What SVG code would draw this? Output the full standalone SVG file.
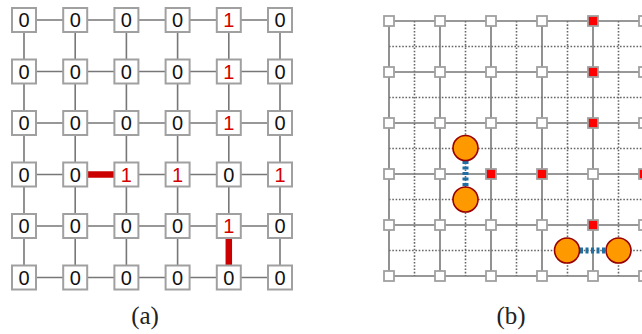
<svg xmlns="http://www.w3.org/2000/svg" width="642" height="334" viewBox="0 0 642 334">
<style>
.edge{stroke:#777;stroke-width:1.6;fill:none}
.dot{stroke:#666;stroke-width:1.6;stroke-dasharray:1.6 1.7;fill:none}
.box{fill:#fff;stroke:#a0a0a0;stroke-width:2}
.sq{fill:#fff;stroke:#a0a0a0;stroke-width:1.8}
.sqr{fill:#f00;stroke:#a0a0a0;stroke-width:1.8}
.t{font-family:"Liberation Sans",Arial,sans-serif;font-size:20px;text-anchor:middle;fill:#111}
.r{fill:#d40000}
.red{stroke:#cc0000;stroke-width:6.5;fill:none}
.ball{fill:#ff9900;stroke:#990000;stroke-width:1.6}
.bond{stroke:#1f6fa3;stroke-width:6;stroke-dasharray:3 2.5;fill:none}
.lab{font-family:"Liberation Serif","Times New Roman",serif;font-size:25px;text-anchor:middle;fill:#222}
</style>
<rect width="642" height="334" fill="#fff"/>
<!-- Panel (a) -->
<g id="connectors-a">
<path class="edge" d="M24 20H280M24 71.5H280M24 123H280M24 174.5H280M24 226H280M24 277.5H280"/>
<path class="edge" d="M24 20V277.5M75.2 20V277.5M126.4 20V277.5M177.6 20V277.5M228.8 20V277.5M280 20V277.5"/>
<path class="red" d="M87 174.5H114"/>
<path class="red" d="M228.8 238V265.5"/>
</g>
<g id="nodes-a">
<g id="a-r1">
<rect class="box" x="12" y="8" width="24" height="24"/><text class="t" x="24" y="27.2">0</text>
<rect class="box" x="63.2" y="8" width="24" height="24"/><text class="t" x="75.2" y="27.2">0</text>
<rect class="box" x="114.4" y="8" width="24" height="24"/><text class="t" x="126.4" y="27.2">0</text>
<rect class="box" x="165.6" y="8" width="24" height="24"/><text class="t" x="177.6" y="27.2">0</text>
<rect class="box" x="216.8" y="8" width="24" height="24"/><text class="t r" x="228.8" y="27.2">1</text>
<rect class="box" x="268" y="8" width="24" height="24"/><text class="t" x="280" y="27.2">0</text>
</g>
<g id="a-r2">
<rect class="box" x="12" y="59.5" width="24" height="24"/><text class="t" x="24" y="78.7">0</text>
<rect class="box" x="63.2" y="59.5" width="24" height="24"/><text class="t" x="75.2" y="78.7">0</text>
<rect class="box" x="114.4" y="59.5" width="24" height="24"/><text class="t" x="126.4" y="78.7">0</text>
<rect class="box" x="165.6" y="59.5" width="24" height="24"/><text class="t" x="177.6" y="78.7">0</text>
<rect class="box" x="216.8" y="59.5" width="24" height="24"/><text class="t r" x="228.8" y="78.7">1</text>
<rect class="box" x="268" y="59.5" width="24" height="24"/><text class="t" x="280" y="78.7">0</text>
</g>
<g id="a-r3">
<rect class="box" x="12" y="111" width="24" height="24"/><text class="t" x="24" y="130.2">0</text>
<rect class="box" x="63.2" y="111" width="24" height="24"/><text class="t" x="75.2" y="130.2">0</text>
<rect class="box" x="114.4" y="111" width="24" height="24"/><text class="t" x="126.4" y="130.2">0</text>
<rect class="box" x="165.6" y="111" width="24" height="24"/><text class="t" x="177.6" y="130.2">0</text>
<rect class="box" x="216.8" y="111" width="24" height="24"/><text class="t r" x="228.8" y="130.2">1</text>
<rect class="box" x="268" y="111" width="24" height="24"/><text class="t" x="280" y="130.2">0</text>
</g>
<g id="a-r4">
<rect class="box" x="12" y="162.5" width="24" height="24"/><text class="t" x="24" y="181.7">0</text>
<rect class="box" x="63.2" y="162.5" width="24" height="24"/><text class="t" x="75.2" y="181.7">0</text>
<rect class="box" x="114.4" y="162.5" width="24" height="24"/><text class="t r" x="126.4" y="181.7">1</text>
<rect class="box" x="165.6" y="162.5" width="24" height="24"/><text class="t r" x="177.6" y="181.7">1</text>
<rect class="box" x="216.8" y="162.5" width="24" height="24"/><text class="t" x="228.8" y="181.7">0</text>
<rect class="box" x="268" y="162.5" width="24" height="24"/><text class="t r" x="280" y="181.7">1</text>
</g>
<g id="a-r5">
<rect class="box" x="12" y="214" width="24" height="24"/><text class="t" x="24" y="233.2">0</text>
<rect class="box" x="63.2" y="214" width="24" height="24"/><text class="t" x="75.2" y="233.2">0</text>
<rect class="box" x="114.4" y="214" width="24" height="24"/><text class="t" x="126.4" y="233.2">0</text>
<rect class="box" x="165.6" y="214" width="24" height="24"/><text class="t" x="177.6" y="233.2">0</text>
<rect class="box" x="216.8" y="214" width="24" height="24"/><text class="t r" x="228.8" y="233.2">1</text>
<rect class="box" x="268" y="214" width="24" height="24"/><text class="t" x="280" y="233.2">0</text>
</g>
<g id="a-r6">
<rect class="box" x="12" y="265.5" width="24" height="24"/><text class="t" x="24" y="284.7">0</text>
<rect class="box" x="63.2" y="265.5" width="24" height="24"/><text class="t" x="75.2" y="284.7">0</text>
<rect class="box" x="114.4" y="265.5" width="24" height="24"/><text class="t" x="126.4" y="284.7">0</text>
<rect class="box" x="165.6" y="265.5" width="24" height="24"/><text class="t" x="177.6" y="284.7">0</text>
<rect class="box" x="216.8" y="265.5" width="24" height="24"/><text class="t" x="228.8" y="284.7">0</text>
<rect class="box" x="268" y="265.5" width="24" height="24"/><text class="t" x="280" y="284.7">0</text>
</g>
</g>
<!-- Panel (b) -->
<g id="connectors-b">
<path class="dot" d="M414.5 21V276M465.5 21V276M516.5 21V276M567.5 21V276M618.5 21V276"/>
<path class="dot" d="M389 46.5H642M389 97.5H642M389 148.5H642M389 199.5H642M389 250.5H642"/>
<path class="edge" d="M389 21H642M389 72H642M389 123H642M389 174H642M389 225H642M389 276H642"/>
<path class="edge" d="M389 21V276M440 21V276M491 21V276M542 21V276M593 21V276"/>
<path class="bond" d="M465.5 161V187"/>
<path class="bond" d="M580 250.5H606"/>
</g>
<g id="nodes-b">
<g id="b-r1"><rect class="sq" x="384" y="16" width="10" height="10"/><rect class="sq" x="435" y="16" width="10" height="10"/><rect class="sq" x="486" y="16" width="10" height="10"/><rect class="sq" x="537" y="16" width="10" height="10"/><rect class="sqr" x="588" y="16" width="10" height="10"/><rect class="sq" x="639" y="16" width="10" height="10"/></g>
<g id="b-r2"><rect class="sq" x="384" y="67" width="10" height="10"/><rect class="sq" x="435" y="67" width="10" height="10"/><rect class="sq" x="486" y="67" width="10" height="10"/><rect class="sq" x="537" y="67" width="10" height="10"/><rect class="sqr" x="588" y="67" width="10" height="10"/><rect class="sq" x="639" y="67" width="10" height="10"/></g>
<g id="b-r3"><rect class="sq" x="384" y="118" width="10" height="10"/><rect class="sq" x="435" y="118" width="10" height="10"/><rect class="sq" x="486" y="118" width="10" height="10"/><rect class="sq" x="537" y="118" width="10" height="10"/><rect class="sqr" x="588" y="118" width="10" height="10"/><rect class="sq" x="639" y="118" width="10" height="10"/></g>
<g id="b-r4"><rect class="sq" x="384" y="169" width="10" height="10"/><rect class="sq" x="435" y="169" width="10" height="10"/><rect class="sqr" x="486" y="169" width="10" height="10"/><rect class="sqr" x="537" y="169" width="10" height="10"/><rect class="sq" x="588" y="169" width="10" height="10"/><rect class="sqr" x="639" y="169" width="10" height="10"/></g>
<g id="b-r5"><rect class="sq" x="384" y="220" width="10" height="10"/><rect class="sq" x="435" y="220" width="10" height="10"/><rect class="sq" x="486" y="220" width="10" height="10"/><rect class="sq" x="537" y="220" width="10" height="10"/><rect class="sqr" x="588" y="220" width="10" height="10"/><rect class="sq" x="639" y="220" width="10" height="10"/></g>
<g id="b-r6"><rect class="sq" x="384" y="271" width="10" height="10"/><rect class="sq" x="435" y="271" width="10" height="10"/><rect class="sq" x="486" y="271" width="10" height="10"/><rect class="sq" x="537" y="271" width="10" height="10"/><rect class="sq" x="588" y="271" width="10" height="10"/><rect class="sq" x="639" y="271" width="10" height="10"/></g>
<g id="ball-1"><circle class="ball" cx="465.5" cy="148" r="12.5"/></g>
<g id="ball-2"><circle class="ball" cx="465.5" cy="199.5" r="12.5"/></g>
<g id="ball-3"><circle class="ball" cx="567" cy="250.5" r="12.5"/></g>
<g id="ball-4"><circle class="ball" cx="618.5" cy="250.5" r="12.5"/></g>
</g>
<text class="lab" x="145" y="324">(a)</text>
<text class="lab" x="511" y="324">(b)</text>
</svg>
